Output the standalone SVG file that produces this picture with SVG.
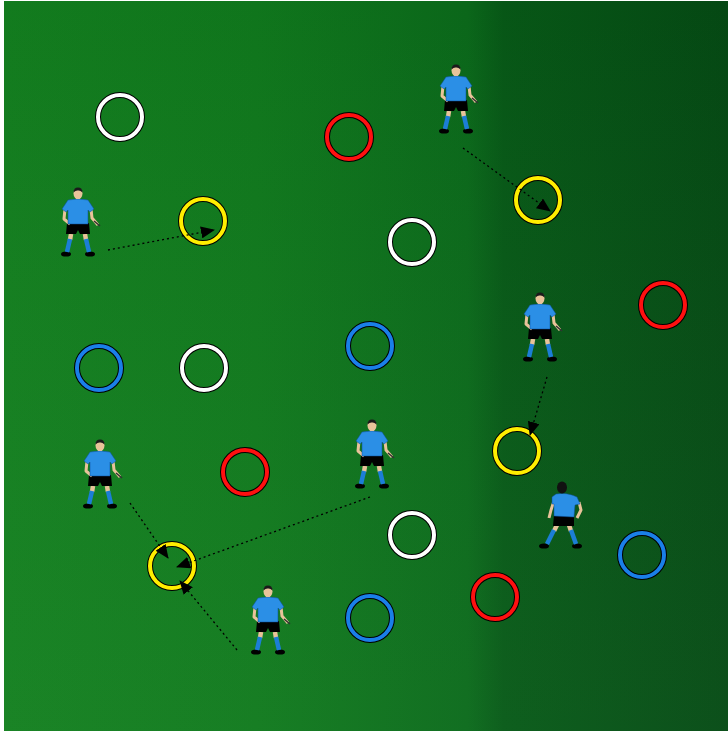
<svg xmlns="http://www.w3.org/2000/svg" xmlns:xlink="http://www.w3.org/1999/xlink" width="728" height="731" viewBox="0 0 728 731">
  <defs>
    <linearGradient id="pitch" x1="0" y1="0" x2="1" y2="0">
      <stop offset="0" stop-color="#13801f"/>
      <stop offset="0.35" stop-color="#107a1d"/>
      <stop offset="0.64" stop-color="#0b6b1b"/>
      <stop offset="0.69" stop-color="#075a17"/>
      <stop offset="1" stop-color="#054b14"/>
    </linearGradient>
    <linearGradient id="pitchShade" x1="0" y1="0" x2="0" y2="1">
      <stop offset="0" stop-color="#000" stop-opacity="0.04"/>
      <stop offset="1" stop-color="#fff" stop-opacity="0.03"/>
    </linearGradient>
    <marker id="head" viewBox="0 0 14 12" refX="13" refY="6" markerWidth="14" markerHeight="12" markerUnits="userSpaceOnUse" orient="auto">
      <path d="M0,0 L14,6 L0,12 Z" fill="#000"/>
    </marker>
    <style>
      .ring-edge { fill: none; stroke: #000; stroke-width: 6; }
      .ring { fill: none; stroke-width: 4; }
      .white { stroke: #ffffff; }
      .red { stroke: #ff1010; }
      .blue { stroke: #1a7fe8; }
      .yellow { stroke: #ffee00; }
      .run { fill: none; stroke: #000; stroke-width: 1.3; stroke-dasharray: 2 3; marker-end: url(#head); }
    </style>
    <!-- ring with thin dark outline -->
    <g id="ringBase"><circle r="22" class="ring-edge"/></g>
    <!-- player seen from the front, origin at top of head -->
    <g id="playerFront">
      <ellipse cx="-12" cy="66" rx="5" ry="2.6" fill="#000"/>
      <ellipse cx="12" cy="66" rx="5" ry="2.6" fill="#000"/>
      <path d="M-7,46 L-8,52" stroke="#e9c39a" stroke-width="4.5" fill="none"/>
      <path d="M7,46 L8,52" stroke="#e9c39a" stroke-width="4.5" fill="none"/>
      <path d="M-8,51 L-11,64" stroke="#1c7ed6" stroke-width="4.5" fill="none"/>
      <path d="M8,51 L11,64" stroke="#1c7ed6" stroke-width="4.5" fill="none"/>
      <path d="M-11,35 L11,35 L12,46 L2,46 L0,42 L-2,46 L-12,46 Z" fill="#000"/>
      <path d="M-13,21 L-14,31 L-8,36" stroke="#e9c39a" stroke-width="3" fill="none" stroke-linejoin="round"/>
      <path d="M13,21 L14,30 L20,37" stroke="#e9c39a" stroke-width="3" fill="none" stroke-linejoin="round"/>
      <path d="M16,33 L22,38" stroke="#333" stroke-width="1.5"/>
      <rect x="-2.2" y="9" width="4.4" height="5" fill="#e9c39a"/>
      <path d="M-10,12 Q0,10 10,12 L16,21 L12,24 L10,22 L10,36 L-10,36 L-10,22 L-12,24 L-16,21 Z" fill="#2b8fe6" stroke="#0d4f9a" stroke-width="0.5"/>
      <ellipse cx="0" cy="5.5" rx="4.5" ry="5.5" fill="#e9c39a"/>
      <path d="M-4.5,4.5 Q-4.5,-0.5 0,-0.5 Q4.5,-0.5 4.5,4.5 Q2,2 0,2.5 Q-2,2 -4.5,4.5 Z" fill="#1a1a1a"/>
    </g>
    <!-- player seen from behind, turned -->
    <g id="playerBack">
      <ellipse cx="-19" cy="64" rx="5" ry="2.6" fill="#000"/>
      <ellipse cx="14" cy="64" rx="5" ry="2.6" fill="#000"/>
      <path d="M-6,43 L-9,49" stroke="#e9c39a" stroke-width="4.5" fill="none"/>
      <path d="M6,43 L8,49" stroke="#e9c39a" stroke-width="4.5" fill="none"/>
      <path d="M-9,48 L-16,62" stroke="#1c7ed6" stroke-width="4.5" fill="none"/>
      <path d="M8,48 L13,62" stroke="#1c7ed6" stroke-width="4.5" fill="none"/>
      <path d="M-9,33 L11,35 L11,44 L-10,44 Z" fill="#000"/>
      <path d="M-8,16 L-12,28 L-14,36" stroke="#e9c39a" stroke-width="3" fill="none" stroke-linejoin="round"/>
      <path d="M16,20 L18,28 L14,36" stroke="#e9c39a" stroke-width="3" fill="none" stroke-linejoin="round"/>
      <path d="M-7,12 Q4,10 14,15 L17,22 L12,23 L11,35 L-9,34 L-9,22 L-11,22 L-11,15 Z" fill="#2b8fe6" stroke="#0d4f9a" stroke-width="0.5"/>
      <ellipse cx="-1" cy="5.5" rx="5" ry="6" fill="#111"/>
    </g>
  </defs>

  <!-- pitch -->
  <rect width="728" height="731" fill="#ffffff"/>
  <rect x="4" y="1" width="724" height="730" fill="url(#pitch)"/>
  <rect x="4" y="1" width="724" height="730" fill="url(#pitchShade)"/>

  <!-- rings -->
  <g id="ring-white-1" transform="translate(120,117)"><use xlink:href="#ringBase"/><circle r="22" class="ring white"/></g>
  <g id="ring-white-2" transform="translate(412,242)"><use xlink:href="#ringBase"/><circle r="22" class="ring white"/></g>
  <g id="ring-white-3" transform="translate(204,368)"><use xlink:href="#ringBase"/><circle r="22" class="ring white"/></g>
  <g id="ring-white-4" transform="translate(412,535)"><use xlink:href="#ringBase"/><circle r="22" class="ring white"/></g>
  <g id="ring-red-1" transform="translate(349,137)"><use xlink:href="#ringBase"/><circle r="22" class="ring red"/></g>
  <g id="ring-red-2" transform="translate(663,305)"><use xlink:href="#ringBase"/><circle r="22" class="ring red"/></g>
  <g id="ring-red-3" transform="translate(245,472)"><use xlink:href="#ringBase"/><circle r="22" class="ring red"/></g>
  <g id="ring-red-4" transform="translate(495,597)"><use xlink:href="#ringBase"/><circle r="22" class="ring red"/></g>
  <g id="ring-blue-1" transform="translate(99,368)"><use xlink:href="#ringBase"/><circle r="22" class="ring blue"/></g>
  <g id="ring-blue-2" transform="translate(370,346)"><use xlink:href="#ringBase"/><circle r="22" class="ring blue"/></g>
  <g id="ring-blue-3" transform="translate(642,555)"><use xlink:href="#ringBase"/><circle r="22" class="ring blue"/></g>
  <g id="ring-blue-4" transform="translate(370,618)"><use xlink:href="#ringBase"/><circle r="22" class="ring blue"/></g>
  <g id="ring-yellow-1" transform="translate(203,221)"><use xlink:href="#ringBase"/><circle r="22" class="ring yellow"/></g>
  <g id="ring-yellow-2" transform="translate(538,200)"><use xlink:href="#ringBase"/><circle r="22" class="ring yellow"/></g>
  <g id="ring-yellow-3" transform="translate(517,451)"><use xlink:href="#ringBase"/><circle r="22" class="ring yellow"/></g>
  <g id="ring-yellow-4" transform="translate(172,566)"><use xlink:href="#ringBase"/><circle r="22" class="ring yellow"/></g>

  <!-- runs -->
  <g id="connectors">
    <path class="run" d="M108,250 L214,230"/>
    <path class="run" d="M463,148 L550,211"/>
    <path class="run" d="M547,377 L530,435"/>
    <path class="run" d="M130,503 L168,558"/>
    <path class="run" d="M370,497 L177,567"/>
    <path class="run" d="M237,650 L180,581"/>
  </g>

  <!-- players -->
  <g id="player-1" transform="translate(78,188)"><use xlink:href="#playerFront"/></g>
  <g id="player-2" transform="translate(456,65)"><use xlink:href="#playerFront"/></g>
  <g id="player-3" transform="translate(540,293)"><use xlink:href="#playerFront"/></g>
  <g id="player-4" transform="translate(100,440)"><use xlink:href="#playerFront"/></g>
  <g id="player-5" transform="translate(372,420)"><use xlink:href="#playerFront"/></g>
  <g id="player-6" transform="translate(268,586)"><use xlink:href="#playerFront"/></g>
  <g id="player-7" transform="translate(563,482)"><use xlink:href="#playerBack"/></g>
</svg>
